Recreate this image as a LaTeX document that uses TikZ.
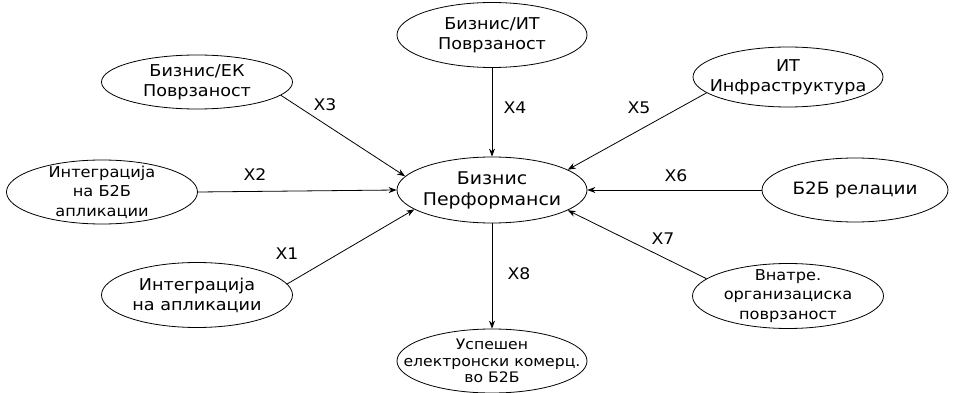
\documentclass[tikz,border=0pt]{standalone}
\usepackage{fontspec}
\setmainfont[FakeStretch=1.08]{DejaVu Sans}
\usetikzlibrary{shapes.geometric,arrows.meta}
\begin{document}
\begin{tikzpicture}[x=1pt,y=-1pt,
  ell/.style={ellipse, draw, line width=0.8pt, inner xsep=-45pt, inner ysep=-16pt, minimum width=190pt, minimum height=64pt, align=center, font=\fontsize{16.3}{20}\selectfont},
  three/.style={font=\fontsize{15}{19.5}\selectfont},
  big/.style={font=\fontsize{17.5}{21}\selectfont},
  lbl/.style={font=\fontsize{16}{19}\selectfont, inner sep=0pt},
  arr/.style={-{Stealth[length=8pt,width=6pt]}, line width=0.8pt}]
\useasboundingbox[fill=white] (0,0) rectangle (954,393);
\node[ell, big, minimum height=66pt] (c) at (492,190) {Бизнис\\Перформанси};
\node[ell, minimum height=65pt] (top) at (492,35) {Бизнис/ИТ\\Поврзаност};
\node[ell, minimum width=191pt, minimum height=54pt] (ek) at (197,82) {Бизнис/ЕК\\Поврзаност};
\node[ell, minimum height=60pt] (itinf) at (788,77) {ИТ\\Инфраструктура};
\node[ell, three, minimum width=191pt] (b2bapp) at (102,192) {Интеграција\\на Б2Б\\апликации};
\node[ell, minimum width=186pt, font=\fontsize{17}{21}\selectfont] (b2brel) at (855,190) {Б2Б релации};
\node[ell, minimum width=191pt, minimum height=65pt] (app) at (197,295) {Интеграција\\на апликации};
\node[ell, three, minimum width=191pt, minimum height=65pt] (vn) at (788,296) {Внатре.\\организациска\\поврзаност};
\node[ell, font=\fontsize{14.5}{16.5}\selectfont, minimum height=64pt] (usp) at (492,361) {Успешен\\електронски комерц.\\во Б2Б};

\draw[arr] (top.south) -- (c.north);
\draw[arr] (ek.-9.6) -- (c.171.6);
\draw[arr] (itinf.191.9) -- (c.15.6);
\draw[arr] (b2bapp.east) -- (c.west);
\draw[arr] (b2brel.west) -- (c.east);
\draw[arr] (app.7) -- (c.194.6);
\draw[arr] (vn.168.7) -- (c.-15.1);
\draw[arr] (c.south) -- (usp.north);

\node[lbl] (x1) at (287,254) {X1};
\node[lbl] (x2) at (255,175) {X2};
\node[lbl] (x3) at (325,105) {X3};
\node[lbl] (x4) at (515,108) {X4};
\node[lbl] (x5) at (639,108) {X5};
\node[lbl] (x6) at (676,176) {X6};
\node[lbl] (x7) at (663,239) {X7};
\node[lbl] (x8) at (519,274) {X8};
\end{tikzpicture}
\end{document}
